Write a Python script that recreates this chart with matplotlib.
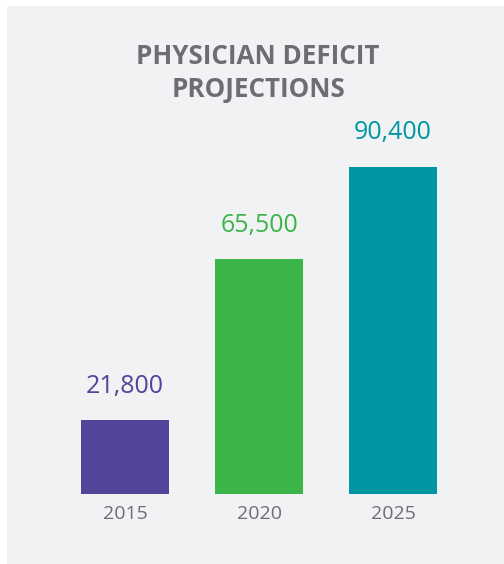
import matplotlib
matplotlib.use("Agg")
import matplotlib.pyplot as plt
from matplotlib.patches import Rectangle

# Projected physician shortfall by year
years = ["2015", "2020", "2025"]
deficit = [21800, 65500, 90400]
bar_colors = ["#514499", "#3bb54a", "#0096a4"]
title_lines = ["PHYSICIAN DEFICIT", "PROJECTIONS"]

W, H = 504, 564
DPI = 100
fig = plt.figure(figsize=(W / DPI, H / DPI), dpi=DPI)
fig.patch.set_facecolor("white")

# light gray card behind the chart
fig.add_artist(Rectangle((7 / W, 0), 1 - 7 / W, 1 - 6 / H,
                         transform=fig.transFigure, facecolor="#f1f2f4",
                         edgecolor="none", zorder=0))

font = "Open Sans"
gray = "#6d6e71"

def px_box(left, top, right, bottom):
    return [left / W, 1 - bottom / H, (right - left) / W, (bottom - top) / H]

ax = fig.add_axes(px_box(58, 100, 460, 494))
ax.set_facecolor("none")
x = range(len(years))
bars = ax.bar(x, deficit, width=0.657, color=bar_colors, zorder=2)
ax.set_xlim(-0.5, 2.5)
ax.set_ylim(1900, 1900 + 394 / 0.0037)

for b, v, c in zip(bars, deficit, bar_colors):
    ax.annotate(f"{v:,}", (b.get_x() + b.get_width() / 2, v),
                xytext=(0, 19.5), textcoords="offset points",
                ha="center", va="baseline", fontsize=18,
                family=font, color=c)

ax.set_xticks(list(x))
ax.set_xticklabels(years, family=font, fontsize=14, color=gray)
ax.tick_params(axis="x", length=0, pad=8)
ax.set_yticks([])
for s in ax.spines.values():
    s.set_visible(False)

fig.text(258 / W, 1 - 64 / H, title_lines[0], ha="center", va="baseline",
         fontsize=18.7, fontweight="bold", family=font, color=gray)
fig.text(258 / W, 1 - 97 / H, title_lines[1], ha="center", va="baseline",
         fontsize=18.7, fontweight="bold", family=font, color=gray)

fig.savefig("out.png", dpi=DPI)
